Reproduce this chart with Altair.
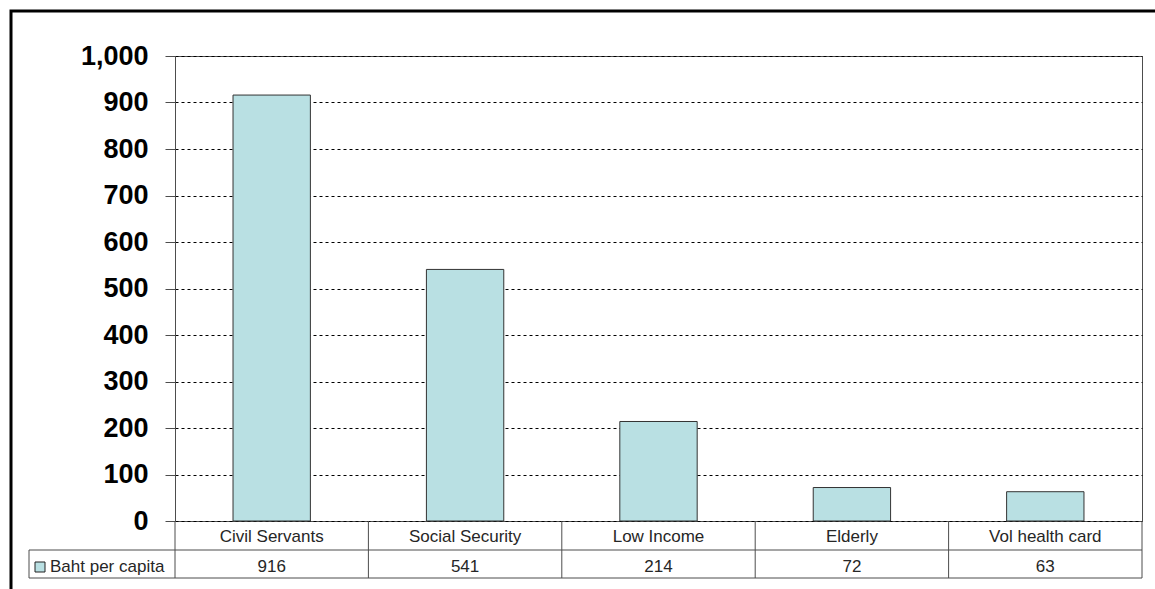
import altair as alt
import pandas as pd

categories = ["Civil Servants", "Social Security", "Low Income", "Elderly", "Vol health card"]
values = [916, 541, 214, 72, 63]
series_name = "Baht per capita"
y_ticks = [0, 100, 200, 300, 400, 500, 600, 700, 800, 900, 1000]

BAR = "#B9E0E3"
LINE = "#4d4d4d"
FONT = "Liberation Sans"
W, H = 967, 465

df = pd.DataFrame({"category": categories, "value": values})
legend_df = pd.DataFrame({"series": [series_name]})

x = alt.X("category:N", sort=categories,
          scale=alt.Scale(paddingInner=0, paddingOuter=0), axis=None)

base = alt.Chart(df)

bars = base.mark_bar(width=alt.RelativeBandSize(0.4), color=BAR,
                     stroke="#333333", strokeWidth=1).encode(
    x=x,
    y=alt.Y("value:Q",
            scale=alt.Scale(domain=[0, 1000], nice=False, zero=True),
            axis=alt.Axis(values=y_ticks, format=",.0f", title=None,
                          labelFont=FONT, labelFontWeight="bold", labelFontSize=27,
                          labelColor="black", labelPadding=17,
                          tickSize=10, tickColor=LINE, tickWidth=1,
                          domainColor=LINE, domainWidth=1,
                          grid=True, gridDash=[3, 3], gridColor="black", gridWidth=1)),
)

cat_text = base.mark_text(font=FONT, fontSize=17, color="#262626", baseline="middle").encode(
    x=x, y=alt.value(H + 16), text="category:N")
val_text = base.mark_text(font=FONT, fontSize=17, color="#262626", baseline="middle").encode(
    x=x, y=alt.value(H + 46), text=alt.Text("value:Q"))

col_lines = base.mark_rule(color=LINE, strokeWidth=1).encode(
    x=alt.X("category:N", sort=categories, bandPosition=0),
    y=alt.value(H), y2=alt.value(H + 57))

legend_base = alt.Chart(legend_df)
right_line = legend_base.mark_rule(color=LINE, strokeWidth=1).encode(
    x=alt.value(W), y=alt.value(H), y2=alt.value(H + 57))
h_line1 = legend_base.mark_rule(color=LINE, strokeWidth=1).encode(
    x=alt.value(-146), x2=alt.value(W), y=alt.value(H + 29))
h_line2 = legend_base.mark_rule(color=LINE, strokeWidth=1).encode(
    x=alt.value(-146), x2=alt.value(W), y=alt.value(H + 57))
leg_left = legend_base.mark_rule(color=LINE, strokeWidth=1).encode(
    x=alt.value(-146), y=alt.value(H + 29), y2=alt.value(H + 57))
leg_sym = legend_base.mark_rect(color=BAR, stroke="#222222", strokeWidth=1).encode(
    x=alt.value(-140), x2=alt.value(-130), y=alt.value(H + 41), y2=alt.value(H + 51))
leg_text = legend_base.mark_text(font=FONT, fontSize=17, color="#262626",
                                 align="left", baseline="middle").encode(
    x=alt.value(-125), y=alt.value(H + 46), text="series:N")

outer = legend_base.mark_rect(fillOpacity=0, stroke="black", strokeWidth=3).encode(
    x=alt.value(-164), x2=alt.value(1300), y=alt.value(-45), y2=alt.value(800))

chart = alt.layer(
    bars, cat_text, val_text, col_lines, right_line, h_line1, h_line2,
    leg_left, leg_sym, leg_text, outer
).properties(
    width=W, height=H,
    autosize=alt.AutoSizeParams(type="none"),
    padding={"left": 175, "top": 56, "right": 13, "bottom": 68},
    background="white",
).configure_view(stroke=LINE, strokeWidth=1)

chart.save("out.html", embed_options={"renderer": "svg", "actions": False})
